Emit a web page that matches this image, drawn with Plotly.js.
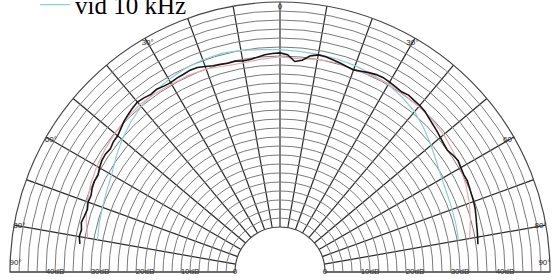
<!DOCTYPE html>
<html><head><meta charset="utf-8">
<script src="https://cdn.plot.ly/plotly-3.0.1.min.js"></script>
<style>html,body{margin:0;padding:0;background:#fff}#c{width:560px;height:280px}</style>
</head><body><div id="c"></div>
<script>
// measured response (black), degrees and dB
const blackTheta = [-82,-80,-78,-76,-74,-72,-70,-68,-66,-64,-62,-60,-58,-56,-54,-52,-50,-48,-46,-44,-42,-40,-38,-36,-34,-32,-30,-28,-26,-24,-22,-20,-18,-16,-14,-12,-10,-8,-6,-4,-2,0,2,4,6,8,10,12,14,16,18,20,22,24,26,28,30,32,34,36,38,40,42,44,46,48,50,52,54,56,58,60,62,64,66,68,70,72,74,76,78,80,82];
const blackDb = [34.9,35.3,35.1,35.5,35.2,35.0,35.4,35.3,35.7,35.9,35.8,36.3,36.7,36.8,36.6,37.0,37.1,37.6,38.2,38.6,39.0,39.3,39.1,38.8,39.0,38.7,38.6,38.8,38.9,39.1,39.0,38.6,38.2,38.0,37.8,37.9,37.6,37.7,38.0,38.4,38.6,38.7,38.3,36.9,37.3,38.5,39.0,38.9,38.6,38.3,38.0,37.8,38.1,38.5,38.8,38.9,38.7,38.5,38.3,38.6,38.4,38.3,38.1,37.6,37.2,36.9,36.5,36.2,36.0,36.4,36.7,36.4,36.2,36.3,36.1,35.9,35.8,35.6,35.3,35.0,34.8,34.6,34.4];
// pink and cyan curves, every 5 degrees
const sideTheta = [-80,-75,-70,-65,-60,-55,-50,-45,-40,-35,-30,-25,-20,-15,-10,-5,0,5,10,15,20,25,30,35,40,45,50,55,60,65,70,75,80];
const pinkDb = [33.4,34.6,35.6,36.4,37.0,37.5,37.9,38.3,38.5,38.4,38.2,38.2,38.0,37.4,37.2,37.5,37.8,37.6,38.0,38.2,37.8,38.2,38.3,38.1,38.0,37.8,37.5,36.9,36.3,35.6,34.8,33.8,32.8];
const cyanDb = [31.2,31.6,32.0,32.5,33.2,34.5,35.8,37.0,38.0,38.8,39.4,39.9,40.2,40.3,40.0,39.6,39.4,39.2,39.1,39.0,38.8,38.5,38.1,37.4,36.5,35.2,33.8,32.5,31.5,31.0,30.7,30.5,30.3];
const legendName = "vid 10 kHz";
// axis labels
const angleTickTheta = [-88,-80,-60,-30,0,30,60,80,88];
const angleTickText = ["90°","80°","60°","30°","0","30°","60°","80°","90°"];
const radTickVals = [0,10,20,30,40];
const radTickText = ["0","10dB","20dB","30dB","40dB"];
const rMax = 50;

const lbl = {family:"Liberation Sans, Arial, sans-serif", size:8, color:"#222"};
const traces = [
  {type:"scatterpolar", mode:"lines", theta:sideTheta, r:cyanDb, name:legendName,
   line:{color:"#8ecfcf", width:1.2}, showlegend:true},
  {type:"scatterpolar", mode:"lines", theta:sideTheta, r:pinkDb,
   line:{color:"#e9aab4", width:1.2}, showlegend:false},
  {type:"scatterpolar", mode:"lines", theta:blackTheta, r:blackDb,
   line:{color:"#151515", width:1.6}, showlegend:false},
  {type:"scatterpolar", mode:"text", theta:angleTickTheta, r:angleTickTheta.map(()=>rMax-1.2),
   text:angleTickText, textfont:lbl, showlegend:false, hoverinfo:"skip"},
  {type:"scatterpolar", mode:"text", theta:radTickVals.map(()=>-90), r:radTickVals,
   text:radTickText, textfont:lbl, showlegend:false, hoverinfo:"skip"},
  {type:"scatterpolar", mode:"text", theta:radTickVals.map(()=>90), r:radTickVals,
   text:radTickText, textfont:lbl, showlegend:false, hoverinfo:"skip"}
];
const layout = {
  width:560, height:280, margin:{l:0,r:0,t:0,b:0,autoexpand:false},
  paper_bgcolor:"#fff", plot_bgcolor:"#fff",
  showlegend:true,
  legend:{x:35/560, y:1.065, xanchor:"left", yanchor:"top", bgcolor:"rgba(0,0,0,0)",
          font:{family:"Liberation Serif, Times New Roman, serif", size:25, color:"#000"}},
  polar:{
    domain:{x:[10/560,550/560], y:[8/280,278/280]},
    sector:[0,180], hole:45/270, bgcolor:"#fff",
    radialaxis:{range:[0,rMax], tickmode:"linear", tick0:0, dtick:2, showticklabels:false,
      ticks:"", showline:false, gridcolor:"#7a7a7a", gridwidth:1},
    angularaxis:{rotation:90, direction:"clockwise", tickmode:"linear", tick0:0, dtick:10,
      showticklabels:false, ticks:"", gridcolor:"#2a2a2a", gridwidth:1.2,
      showline:true, linecolor:"#444", linewidth:1.2}
  }
};
Plotly.newPlot("c", traces, layout, {staticPlot:true, displayModeBar:false});
</script></body></html>
